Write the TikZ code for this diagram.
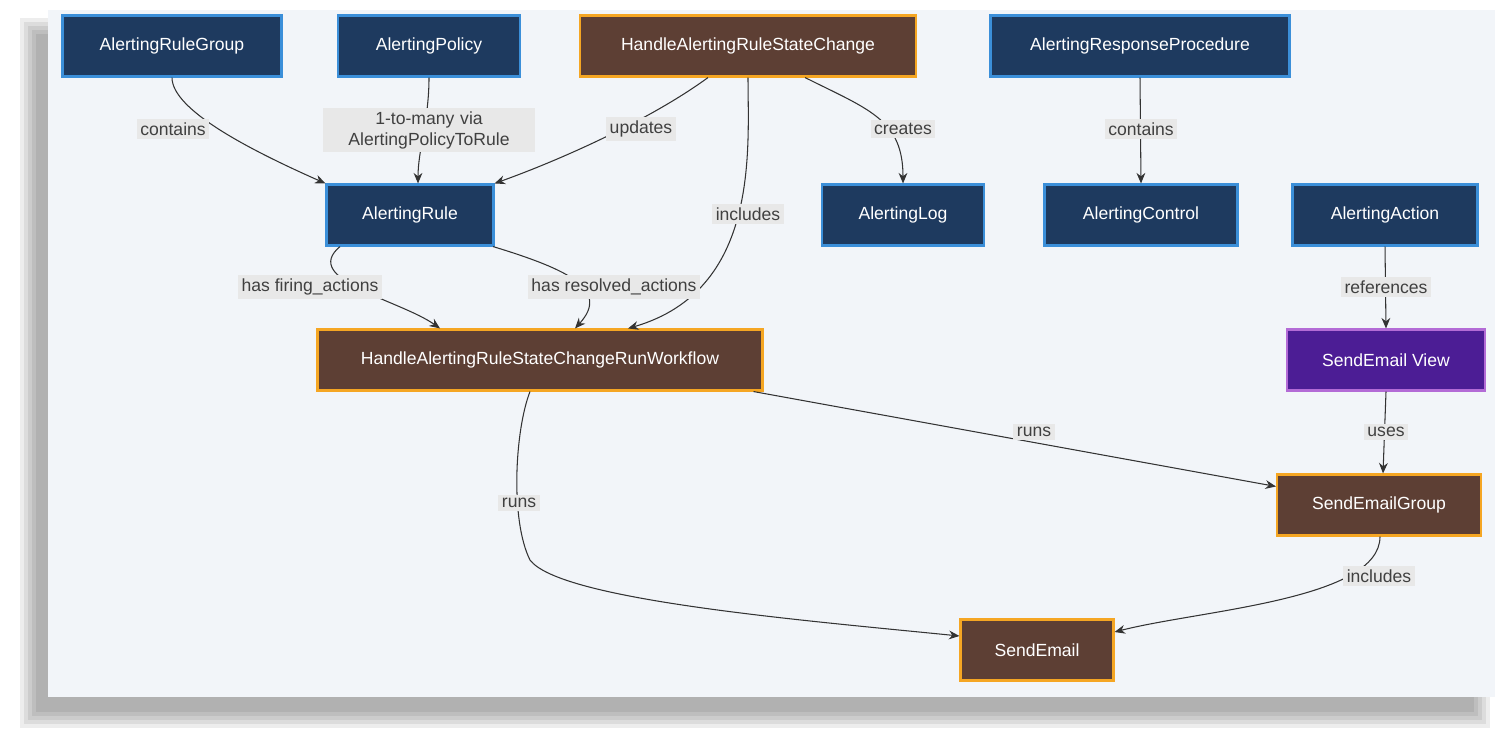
\documentclass[tikz,border=0pt]{standalone}
\usepackage{fontspec}
\setmainfont{Liberation Sans}
\usetikzlibrary{arrows.meta,positioning,calc}
\definecolor{navy}{HTML}{1E3A5F}
\definecolor{navyline}{HTML}{3B8FD9}
\definecolor{brown}{HTML}{5D3F34}
\definecolor{brownline}{HTML}{F5A623}
\definecolor{purp}{HTML}{4C1D95}
\definecolor{purpline}{HTML}{B36BD6}
\definecolor{panel}{HTML}{F2F5F9}
\definecolor{lbl}{HTML}{E8E8E8}
\definecolor{edge}{HTML}{333333}
\tikzset{
  box/.style={draw, line width=1.2pt, text=white, minimum height=1.22cm, inner sep=0pt, font=\fontsize{10}{12}\selectfont},
  ent/.style={box, fill=navy, draw=navyline},
  flow/.style={box, fill=brown, draw=brownline},
  view/.style={box, fill=purp, draw=purpline},
  rel/.style={edge, line width=0.6pt, -{Stealth[length=6pt,width=5pt]}},
  tag/.style={fill=lbl, text=black!75, inner sep=2pt, font=\fontsize{10}{12}\selectfont, align=center}
}
\begin{document}
\begin{tikzpicture}[x=0.02cm,y=-0.02cm]
  \useasboundingbox (0,0) rectangle (1500,741);
  % soft shadow and panel
  \foreach \d in {0,4,8,12,16} {
    \fill[black, opacity=0.07] (20+\d,18+\d) rectangle (1490-\d,728-\d);
  }
  \fill[panel] (48,10) rectangle (1495,697);

  % entities
  \node[ent, minimum width=4.38cm] (arg) at (172,46) {AlertingRuleGroup};
  \node[ent, minimum width=3.64cm] (ap) at (429,46) {AlertingPolicy};
  \node[flow, minimum width=6.72cm] (harsc) at (748,46) {HandleAlertingRuleStateChange};
  \node[ent, minimum width=5.98cm] (arp) at (1140,46) {AlertingResponseProcedure};
  \node[ent, minimum width=3.34cm] (ar) at (410,215) {AlertingRule};
  \node[ent, minimum width=3.24cm] (alog) at (903,215) {AlertingLog};
  \node[ent, minimum width=3.86cm] (actl) at (1141,215) {AlertingControl};
  \node[ent, minimum width=3.70cm] (aact) at (1385,215) {AlertingAction};
  \node[flow, minimum width=8.90cm] (runwf) at (540,360) {HandleAlertingRuleStateChangeRunWorkflow};
  \node[view, minimum width=3.96cm] (sev) at (1386,360) {SendEmail View};
  \node[flow, minimum width=4.08cm] (seg) at (1379,505) {SendEmailGroup};
  \node[flow, minimum width=3.06cm] (se) at (1037,650) {SendEmail};

  % relations
  \draw[rel] (arg.south) .. controls (172,110) and (250,150) .. (ar.north west);
  \draw[rel] (ap.south) .. controls (429,120) and (418,150) .. ($(ar.north)+(8,0)$);
  \draw[rel] ($(harsc.south)+(-40,0)$) .. controls (650,120) and (560,160) .. (ar.north east);
  \draw[rel] (harsc.south) .. controls (748,150) and (760,290) .. ($(runwf.north)+(88,0)$);
  \draw[rel] ($(harsc.south)+(57,0)$) .. controls (870,110) and (903,120) .. (alog.north);
  \draw[rel] (arp.south) -- (actl.north);
  \draw[rel] ($(ar.south)+(-70,0)$) .. controls (300,280) and (400,300) .. ($(runwf.north)+(-100,0)$);
  \draw[rel] ($(ar.south)+(83,0)$) .. controls (570,270) and (610,290) .. ($(runwf.north)+(35,0)$);
  \draw[rel] (aact.south) -- (sev.north);
  \draw[rel] (sev.south) -- ($(seg.north)+(4,0)$);
  \draw[rel] ($(runwf.south east)+(-10,0)$) -- ($(seg.north west)+(0,13)$);
  \draw[rel] ($(runwf.south)+(-10,0)$) .. controls (515,430) and (510,520) .. (530,560)
    .. controls (560,600) and (800,620) .. ($(se.west)+(0,-14)$);
  \draw[rel] ($(seg.south)+(1,0)$) .. controls (1380,600) and (1200,610) .. ($(se.east)+(0,-18)$);

  % relation labels
  \node[tag] (t1) at (173,129) {contains};
  \node[tag, text width=4.1cm] (t2) at (429,130) {1-to-many via\\AlertingPolicyToRule};
  \node[tag] (t3) at (641,129) {updates};
  \node[tag] (t4) at (748,214) {includes};
  \node[tag] (t5) at (903,129) {creates};
  \node[tag] (t6) at (1141,129) {contains};
  \node[tag] (t7) at (310,287) {has firing\_actions};
  \node[tag] (t8) at (614,287) {has resolved\_actions};
  \node[tag] (t9) at (1386,287) {references};
  \node[tag] (t10) at (1386,432) {uses};
  \node[tag] (t11) at (1034,432) {runs};
  \node[tag] (t12) at (519,503) {runs};
  \node[tag] (t13) at (1379,576) {includes};
\end{tikzpicture}
\end{document}
